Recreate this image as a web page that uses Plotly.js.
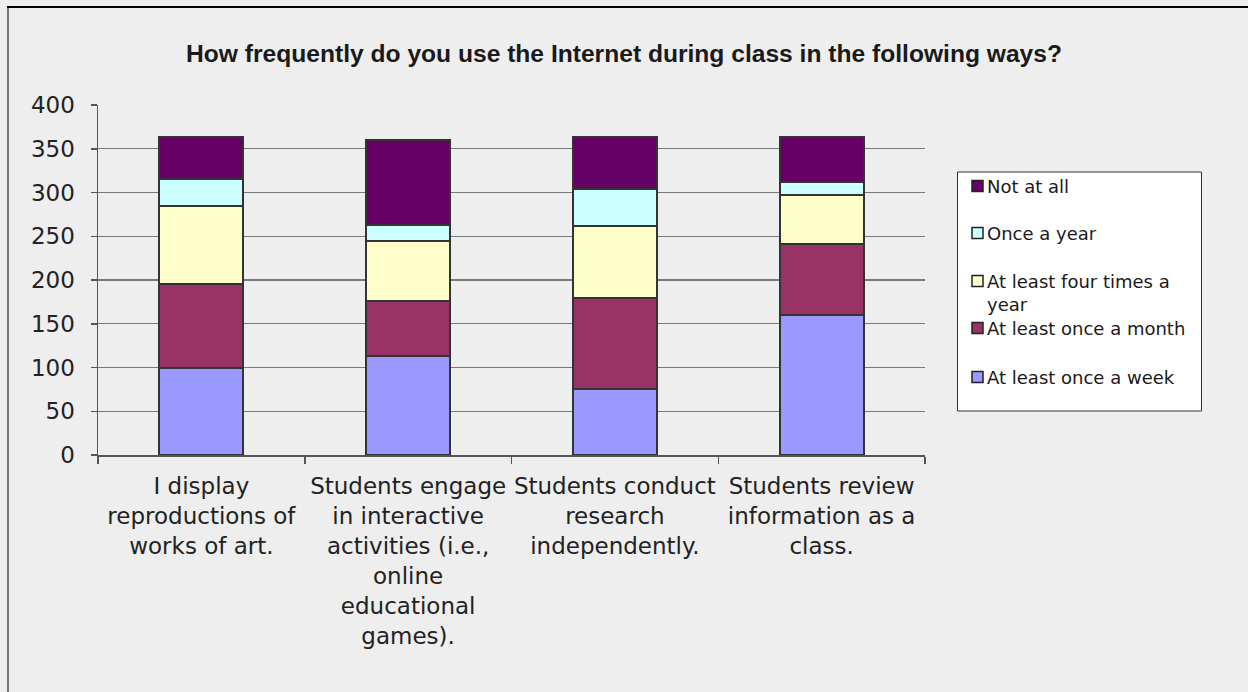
<!DOCTYPE html>
<html>
<head>
<meta charset="utf-8">
<script src="https://cdn.plot.ly/plotly-3.0.1.min.js"></script>
<style>
  html, body { margin: 0; padding: 0; background: #eeeeee; }
  #chart { width: 1248px; height: 692px; }
</style>
</head>
<body>
<div id="chart"></div>
<script>
// ---- data ----
const categories = [
  "I display<br>reproductions of<br>works of art.",
  "Students engage<br>in interactive<br>activities (i.e.,<br>online<br>educational<br>games).",
  "Students conduct<br>research<br>independently.",
  "Students review<br>information as a<br>class."
];
const seriesNames = [
  "At least once a week",
  "At least once a month",
  "At least four times a year",
  "Once a year",
  "Not at all"
];
const legendLabels = [
  "At least once a week",
  "At least once a month",
  "At least four times a<br>year",
  "Once a year",
  "Not at all"
];
const atLeastOnceAWeek  = [99, 113, 75, 160];
const atLeastOnceAMonth = [96, 63, 104, 81];
const atLeastFourTimesAYear = [90, 69, 83, 56];
const onceAYear = [31, 18, 42, 15];
const notAtAll = [47, 97, 60, 51];
const seriesValues = [atLeastOnceAWeek, atLeastOnceAMonth, atLeastFourTimesAYear, onceAYear, notAtAll];
const seriesColors = ["#9999ff", "#993366", "#ffffcc", "#ccffff", "#660066"];
const yTicks = [0, 50, 100, 150, 200, 250, 300, 350, 400];
const titleText = "How frequently do you use the Internet during class in the following ways?";

// ---- geometry helpers (plot area in px) ----
const PL = 98, PR = 925, PT = 105, PB = 455;
const W = 1248, H = 692;
const px2x = px => (px - PL) / (PR - PL);
const py2y = py => (PB - py) / (PB - PT);

const traces = seriesNames.map((name, i) => ({
  type: "bar",
  name: name,
  x: categories,
  y: seriesValues[i],
  marker: { color: seriesColors[i], line: { color: "#333333", width: 2 } },
  showlegend: false,
  hoverinfo: "x+y+name"
}));

// ---- custom legend ----
const shapes = [];
const annotations = [];
// outer frame lines
shapes.push({ type: "line", xref: "paper", yref: "paper",
  x0: px2x(8), x1: px2x(8), y0: py2y(H + 5), y1: py2y(7),
  line: { color: "#777777", width: 2 }, layer: "below" });
shapes.push({ type: "line", xref: "paper", yref: "paper",
  x0: px2x(7), x1: px2x(W + 5), y0: py2y(7), y1: py2y(7),
  line: { color: "#000000", width: 2 }, layer: "below" });
// legend box
shapes.push({ type: "rect", xref: "paper", yref: "paper",
  x0: px2x(957.5), x1: px2x(1201.5), y0: py2y(411), y1: py2y(172),
  fillcolor: "#ffffff", line: { color: "#333333", width: 1 } });
const legendRowY = [377, 328, 281, 233, 186]; // week, month, four, once, not at all
for (let i = 0; i < seriesNames.length; i++) {
  const cy = legendRowY[i];
  shapes.push({ type: "rect", xref: "paper", yref: "paper",
    x0: px2x(972), x1: px2x(983), y0: py2y(cy + 5.5), y1: py2y(cy - 5.5),
    fillcolor: seriesColors[i], line: { color: "#222222", width: 1.5 } });
  annotations.push({ xref: "paper", yref: "paper", x: px2x(985), y: py2y(cy - 12),
    xanchor: "left", yanchor: "top", align: "left", showarrow: false,
    text: legendLabels[i],
    font: { family: "DejaVu Sans", size: 18, color: "#1a1a1a" } });
}

const layout = {
  width: W, height: H,
  paper_bgcolor: "#eeeeee",
  plot_bgcolor: "#eeeeee",
  barmode: "stack",
  bargap: 0.594,
  margin: { l: PL, r: W - PR, t: PT, b: H - PB, pad: 0 },
  title: {
    text: "<b>" + titleText + "</b>",
    xref: "container", x: 0.5, xanchor: "center",
    yref: "container", y: 1 - 53 / H, yanchor: "middle",
    font: { family: "Liberation Sans", size: 24.6, color: "#1a1a1a" }
  },
  xaxis: {
    type: "category",
    tickson: "boundaries",
    ticks: "outside", ticklen: 7, tickcolor: "#555555", tickwidth: 1.5,
    ticklabelstandoff: 10,
    showgrid: false,
    showline: true, linecolor: "#555555", linewidth: 1.5,
    tickfont: { family: "DejaVu Sans", size: 23, color: "#222222" },
    tickangle: 0,
    automargin: false,
    fixedrange: true
  },
  yaxis: {
    range: [0, 400],
    tickvals: yTicks,
    ticktext: yTicks.map(String),
    ticks: "outside", ticklen: 6, tickcolor: "#555555", tickwidth: 1.5,
    ticklabelstandoff: 11,
    showgrid: true, gridcolor: "#7a7a7a", gridwidth: 1.3,
    zeroline: false,
    showline: true, linecolor: "#555555", linewidth: 1.5,
    tickfont: { family: "DejaVu Sans", size: 23, color: "#222222" },
    automargin: false,
    fixedrange: true
  },
  shapes: shapes,
  annotations: annotations,
  showlegend: false
};

Plotly.newPlot("chart", traces, layout, { displayModeBar: false, staticPlot: true });
</script>
</body>
</html>
